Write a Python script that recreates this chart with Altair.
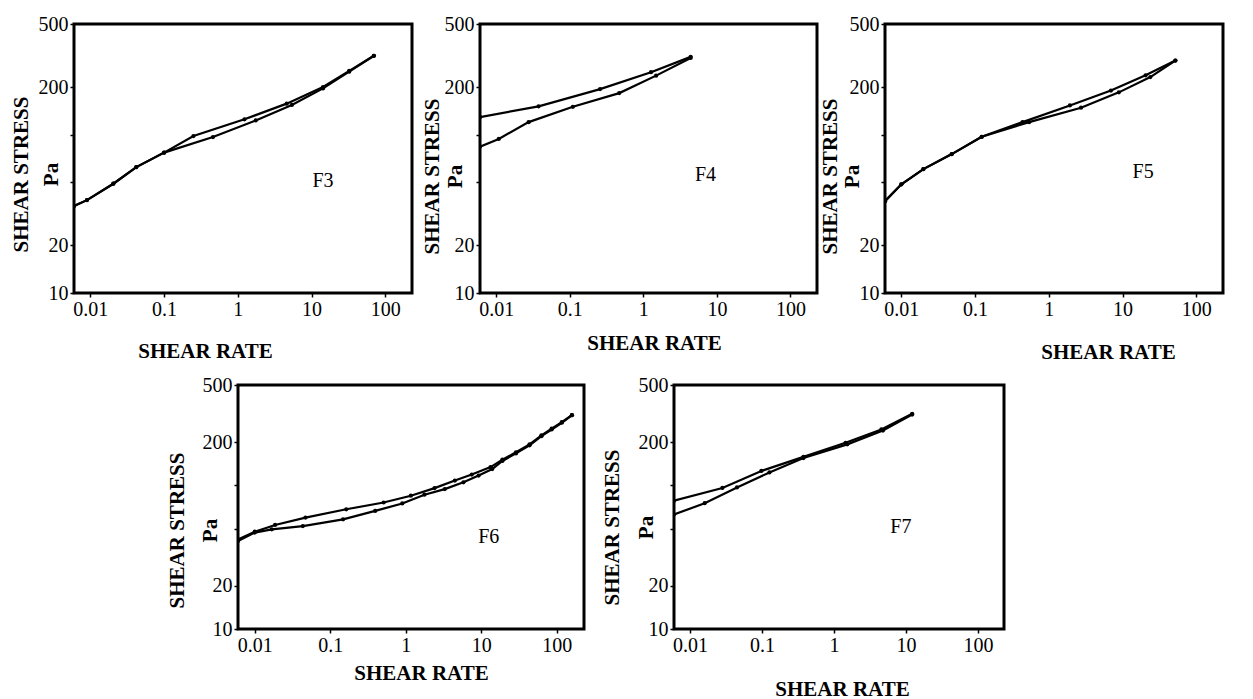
import altair as alt
import pandas as pd

# ---- values: shear rate (1/s) vs shear stress (Pa) ----
F3_UP_RATE = [0.006, 0.009, 0.0205, 0.042, 0.1, 0.46, 1.75, 5.4, 14.3, 32.4, 70]
F3_UP_STRESS = [35.4, 38.6, 49, 62.4, 77, 96.6, 123, 154, 196, 250, 315]
F3_DOWN_RATE = [70, 32.4, 14.3, 4.6, 1.23, 0.25, 0.1, 0.042, 0.0205, 0.009, 0.006]
F3_DOWN_STRESS = [315, 253, 200, 157, 125, 98, 77, 62.4, 49, 38.6, 35.4]

F4_UP_RATE = [0.006, 0.0108, 0.0275, 0.11, 0.47, 1.49, 4.4]
F4_UP_STRESS = [84, 94, 120, 150, 183, 236, 305]
F4_DOWN_RATE = [4.4, 1.27, 0.258, 0.0376, 0.006]
F4_DOWN_STRESS = [310, 248, 194, 151, 129]

F5_UP_RATE = [0.006, 0.01, 0.0199, 0.0483, 0.123, 0.54, 2.73, 8.9, 23.8, 52]
F5_UP_STRESS = [38, 48.6, 60.6, 75.4, 97, 120, 148, 185, 231, 294]
F5_DOWN_RATE = [52, 20.5, 6.95, 1.93, 0.44, 0.123, 0.0483, 0.0199, 0.01, 0.006]
F5_DOWN_STRESS = [294, 237, 190, 153, 120, 97, 75.4, 60.6, 48.6, 38]

F6_UP_RATE = [0.006, 0.01, 0.0168, 0.0434, 0.148, 0.394, 0.90, 1.77, 3.29, 5.81,
              9.25, 14, 19.1, 28.9, 43.7, 62.8, 85.7, 117, 159]
F6_UP_STRESS = [41, 46.9, 49.4, 52.1, 58, 66.4, 74.8, 86.1, 94.2, 105,
                117, 130, 148, 167, 190, 220, 245, 273, 308]
F6_DOWN_RATE = [159, 117, 85.7, 62.8, 43.7, 28.9, 19.1, 13.3, 7.5, 4.48, 2.41,
                1.17, 0.51, 0.163, 0.047, 0.0186, 0.01, 0.006]
F6_DOWN_STRESS = [308, 276, 248, 223, 193, 170, 151, 134, 119, 108, 95.7,
                  84.7, 76, 68.2, 59.7, 53, 47.6, 42]

F7_UP_RATE = [0.006, 0.016, 0.045, 0.127, 0.377, 1.53, 4.79, 12.2]
F7_UP_STRESS = [62.7, 75.1, 96.8, 123, 155, 193, 241, 311]
F7_DOWN_RATE = [12.2, 4.55, 1.45, 0.377, 0.098, 0.0282, 0.006]
F7_DOWN_STRESS = [315, 245, 198, 158, 126, 95.9, 78.3]

X_TICKS = [0.01, 0.1, 1, 10, 100]
Y_TICKS = [10, 20, 50, 100, 200, 500]

FONT = "Liberation Serif"


def panel(name, up_r, up_s, dn_r, dn_s, width, height, label_at,
          xt_x, xt_y, yt_x, yt_y, yt_lh):
    rows = []
    for r, s in zip(up_r, up_s):
        rows.append({"rate": r, "stress": s, "branch": "up"})
    for r, s in zip(dn_r, dn_s):
        rows.append({"rate": r, "stress": s, "branch": "down"})
    df = pd.DataFrame(rows)
    df["order"] = range(len(df))

    xs = alt.Scale(type="log", domain=[0.006, 230], nice=False)
    ys = alt.Scale(type="log", domain=[10, 500], nice=False)
    x = alt.X("rate:Q", scale=xs,
              axis=alt.Axis(values=X_TICKS, format="~g", title="SHEAR RATE",
                            titleX=xt_x, titleY=xt_y, titleBaseline="top"))
    y = alt.Y("stress:Q", scale=ys,
              axis=alt.Axis(values=Y_TICKS, format="~g",
                            labelExpr="datum.value == 50 || datum.value == 100 ? '' : datum.label",
                            title=["SHEAR STRESS", "Pa"], titleX=yt_x, titleY=yt_y,
                            titleBaseline="bottom", titleLineHeight=yt_lh))

    lines = alt.Chart(df).mark_line(
        color="black", strokeWidth=2.2, clip=True,
        point=alt.OverlayMarkDef(filled=True, size=18, color="black"),
    ).encode(x=x, y=y, detail="branch:N", order="order:Q")

    lab = alt.Chart(pd.DataFrame({"rate": [label_at[0]], "stress": [label_at[1]],
                                  "label": [name]})).mark_text(
        font=FONT, fontSize=20, color="black"
    ).encode(x=alt.X("rate:Q", scale=xs), y=alt.Y("stress:Q", scale=ys),
             text="label:N")

    return alt.layer(lines, lab).properties(width=width, height=height)


f3 = panel("F3", F3_UP_RATE, F3_UP_STRESS, F3_DOWN_RATE, F3_DOWN_STRESS,
           338, 269, (14.3, 51), 131, 47, -43, 150, 30)
f4 = panel("F4", F4_UP_RATE, F4_UP_STRESS, F4_DOWN_RATE, F4_DOWN_STRESS,
           337, 269, (7.0, 56), 174, 39, -38, 152, 23)
f5 = panel("F5", F5_UP_RATE, F5_UP_STRESS, F5_DOWN_RATE, F5_DOWN_STRESS,
           338, 269, (19, 58), 223, 48, -45, 152, 22)
f6 = panel("F6", F6_UP_RATE, F6_UP_STRESS, F6_DOWN_RATE, F6_DOWN_STRESS,
           346, 244, (12.6, 44), 183, 33, -51, 145, 33)
f7 = panel("F7", F7_UP_RATE, F7_UP_STRESS, F7_DOWN_RATE, F7_DOWN_STRESS,
           330, 244, (8.5, 51), 168, 49, -52, 142, 34)

spacer = alt.Chart(pd.DataFrame({"v": [0]})).mark_point(opacity=0).encode(
    x=alt.X("v:Q", axis=None), y=alt.Y("v:Q", axis=None)
).properties(width=74, height=244, view=alt.ViewBackground(stroke="transparent"))

top = alt.hconcat(f3, f4, f5, spacing=68, bounds="flush")
bottom = alt.hconcat(spacer, f6, f7, spacing=90, bounds="flush")

chart = alt.vconcat(top, bottom, spacing=9).properties(
    padding={"left": 0, "top": 4, "right": 5, "bottom": 0}
).configure_view(
    stroke="black", strokeWidth=3
).configure_axis(
    domain=False, grid=False, tickColor="black", tickSize=4, tickWidth=1.5,
    labelFont=FONT, labelFontSize=20, labelColor="black", labelPadding=2,
    titleFont=FONT, titleFontSize=21, titleFontWeight="bold", titleColor="black",
)

chart.save("out.html", embed_options={"renderer": "svg", "actions": False})
